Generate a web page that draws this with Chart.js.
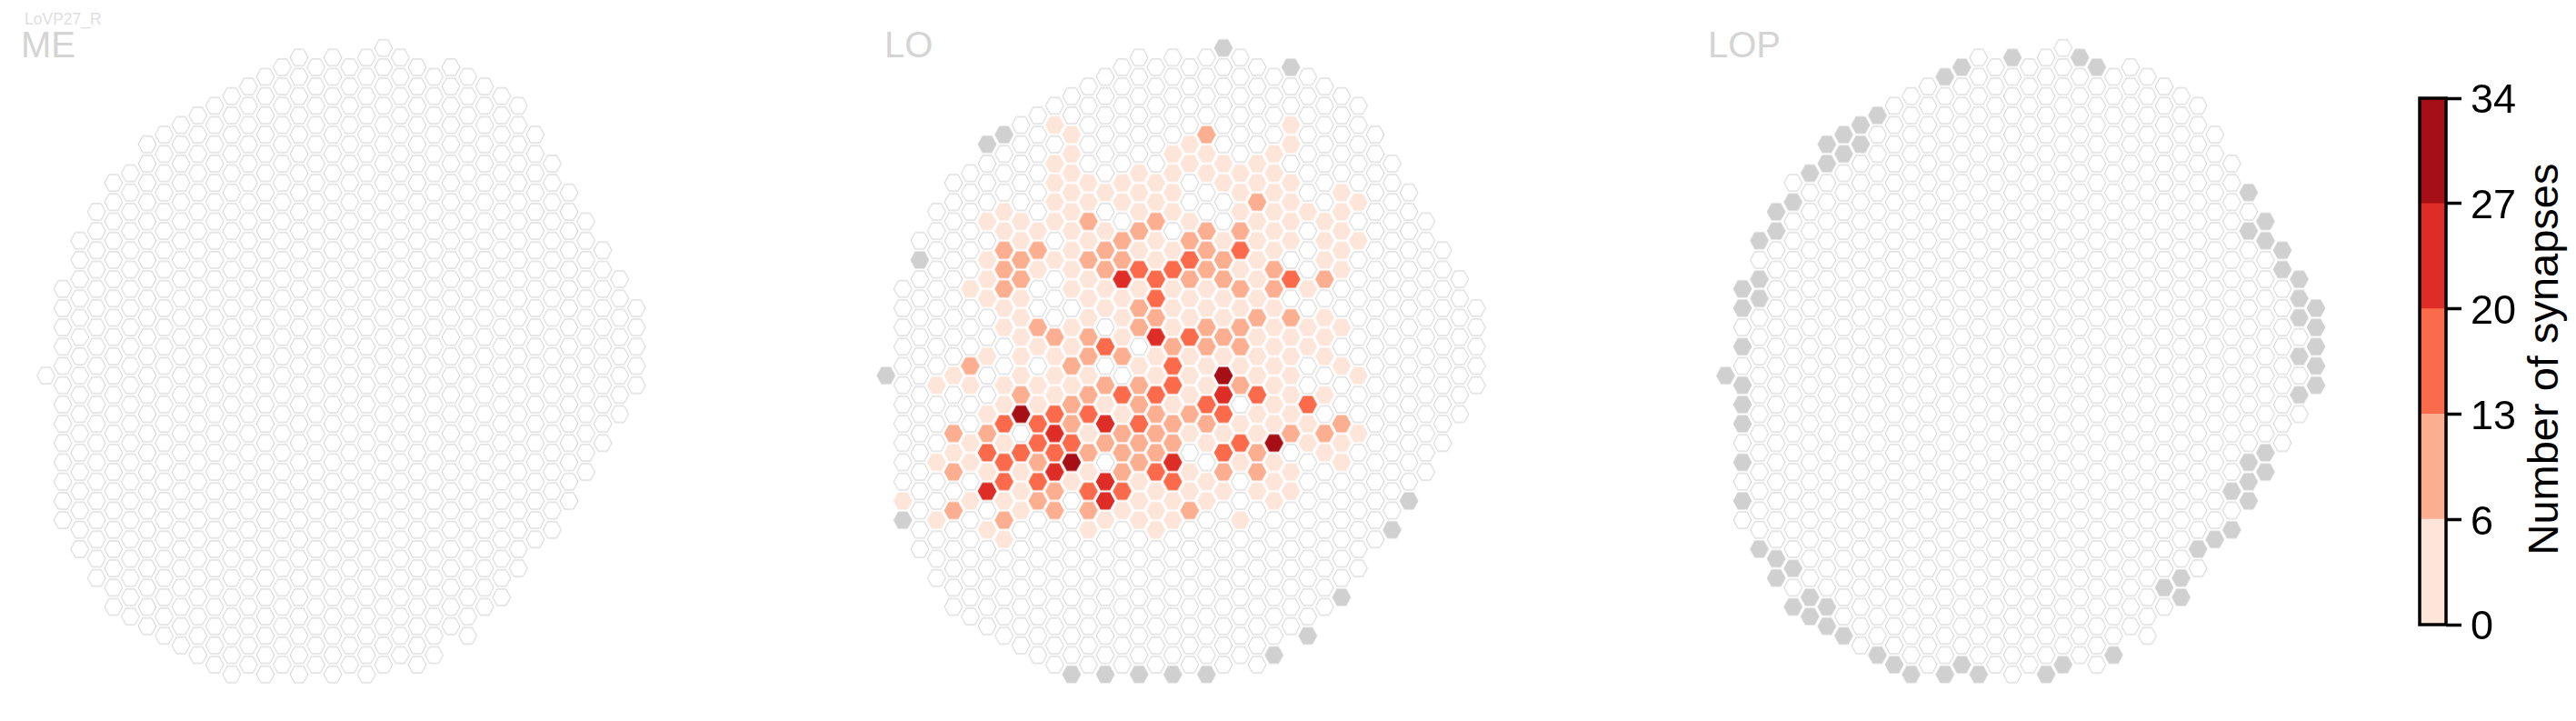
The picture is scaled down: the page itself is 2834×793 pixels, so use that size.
<!DOCTYPE html>
<html>
<head>
<meta charset="utf-8">
<style>
  html, body { margin:0; padding:0; background:#fff; width:2834px; height:793px; overflow:hidden; font-family:"Liberation Sans", Arial, sans-serif; }
  canvas { position:absolute; top:0; }
  .lbl { position:absolute; white-space:nowrap; line-height:1; }
  .region { font-size:40px; color:#d4d4d4; top:29px; }
</style>
<script src="https://cdn.jsdelivr.net/npm/chart.js@4"></script>
</head>
<body>
<div class="lbl" style="left:27px;top:13px;font-size:17.5px;color:#e0e0e0">LoVP27_R</div>
<div class="lbl region" style="left:23px">ME</div>
<div class="lbl region" style="left:973px">LO</div>
<div class="lbl region" style="left:1879px">LOP</div>
<div class="lbl" style="left:2797px;top:395px;font-size:47px;color:#000;transform:translate(-50%,-50%) rotate(-90deg)">Number of synapses</div>
<canvas id="meChart"></canvas>
<canvas id="loChart"></canvas>
<canvas id="lopChart"></canvas>
<canvas id="barChart"></canvas>
<script>
// ── DATA ─────────────────────────────────────────────────────────
// hex grid: first and last row of each of the 36 columns
const columnFirst = [34,25,20,17,14,13,10,9,8,7,6,5,4,3,2,1,2,1,2,1,0,1,2,3,2,3,4,5,6,9,12,15,18,21,24,27];
const columnLast  = [34,49,52,55,58,59,60,61,62,63,64,65,64,65,64,65,64,65,64,65,64,63,64,63,60,61,58,57,54,51,50,47,44,41,38,35];

const barTicks  = ['0','6','13','20','27','34'];
const barColors = ['#fee5d9','#fcae91','#fb6a4a','#de2d26','#a50f15'];

// LO columns per colour bin, [column,row]
const loBin1 = [[10,8],[24,8],[11,9],[18,10],[24,10],[11,11],[17,11],[19,11],[23,11],[10,12],[18,12],[20,12],[22,12],
  [11,13],[15,13],[17,13],[19,13],[21,13],[23,13],[10,14],[12,14],[14,14],[16,14],[20,14],[22,14],[24,14],
  [11,15],[13,15],[15,15],[17,15],[21,15],[23,15],[27,15],[10,16],[12,16],[14,16],[16,16],[24,16],[28,16],
  [7,17],[11,17],[15,17],[17,17],[21,17],[23,17],[25,17],[27,17],[6,18],[8,18],[10,18],[18,18],[22,18],[24,18],[26,18],
  [7,19],[9,19],[11,19],[13,19],[23,19],[27,19],[8,20],[12,20],[16,20],[20,20],[22,20],[24,20],[26,20],[28,20],
  [11,21],[15,21],[17,21],[23,21],[27,21],[6,22],[10,22],[16,22],[22,22],[26,22],[9,23],[11,23],[21,23],[27,23],
  [6,24],[12,24],[22,24],[5,25],[11,25],[13,25],[15,25],[17,25],[19,25],[25,25],[6,26],[8,26],[12,26],[14,26],[18,26],[20,26],[22,26],
  [7,27],[13,27],[17,27],[19,27],[21,27],[23,27],[8,28],[12,28],[14,28],[18,28],[20,28],[26,28],
  [7,29],[11,29],[17,29],[23,29],[25,29],[27,29],[8,30],[14,30],[22,30],[24,30],[26,30],[9,31],[11,31],[23,31],[25,31],
  [6,32],[8,32],[10,32],[16,32],[18,32],[20,32],[22,32],[24,32],[26,32],[15,33],[19,33],[21,33],[23,33],[27,33],
  [4,34],[8,34],[10,34],[12,34],[16,34],[18,34],[22,34],[24,34],[28,34],[3,35],[5,35],[7,35],[9,35],[11,35],[19,35],[23,35],
  [10,36],[18,36],[24,36],[26,36],[7,37],[9,37],[13,37],[17,37],[23,37],[6,38],[14,38],[22,38],[24,38],[21,39],[23,39],[25,39],
  [12,40],[18,40],[20,40],[22,40],[28,40],[5,41],[7,41],[19,41],[25,41],[27,41],[4,42],[26,42],[3,43],[5,43],[21,43],[23,43],[27,43],
  [6,44],[8,44],[12,44],[18,44],[24,44],[11,45],[15,45],[19,45],[23,45],[8,46],[16,46],[18,46],[20,46],[22,46],[24,46],
  [1,47],[5,47],[7,47],[15,47],[17,47],[19,47],[23,47],[8,48],[14,48],[16,48],[3,49],[13,49],[15,49],[17,49],[21,49],[6,50],[12,50],[16,50],[7,51]];
const loBin2 = [[19,9],[22,16],[12,18],[16,18],[15,19],[19,19],[21,19],[14,20],[18,20],[7,21],[9,21],[13,21],[19,21],[8,22],[12,22],[14,22],[20,22],
  [7,23],[13,23],[19,23],[23,23],[8,24],[18,24],[20,24],[26,24],[7,25],[21,25],[23,25],[15,27],[16,28],[22,28],[24,28],
  [9,29],[15,29],[19,29],[21,29],[10,30],[12,30],[20,30],[17,31],[19,31],[21,31],[12,32],[14,32],[5,33],[11,33],[13,35],[15,35],[21,35],
  [8,36],[12,36],[11,37],[15,37],[16,38],[18,38],[11,39],[17,39],[19,39],[27,39],[4,40],[6,40],[14,40],[16,40],[24,40],[26,40],
  [13,41],[15,41],[17,41],[12,42],[14,42],[16,42],[22,42],[9,43],[15,43],[4,44],[14,44],[20,44],[22,44],[10,46],[9,47],[4,48],[10,48],[12,48],[18,48],[7,49]];
const loBin3 = [[21,21],[18,22],[15,23],[17,23],[16,24],[24,24],[16,26],[18,30],[13,31],[17,33],[17,35],[14,36],[16,36],[22,36],[19,37],[25,37],
  [10,38],[12,38],[20,38],[7,39],[9,39],[15,39],[9,41],[11,41],[21,41],[6,42],[8,42],[10,42],[20,42],[7,43],[16,44],[7,45],[9,45],[17,45],[12,46],[14,46]];
const loBin4 = [[14,24],[16,30],[20,36],[13,39],[10,40],[17,43],[10,44],[13,45],[6,46],[13,47]];
const loBin5 = [[20,34],[8,38],[23,41],[11,43]];

// columns shown grey (no data in that neuropil)
const loGrey  = [[20,0],[24,2],[7,9],[6,10],[2,22],[0,34],[31,47],[1,49],[30,50],[27,57],[25,61],[23,63],[11,65],[13,65],[15,65],[17,65],[19,65]];
const lopGrey = [[0,34],[1,25],[1,27],[1,31],[1,35],[1,37],[1,39],[1,43],[1,47],[2,20],[2,24],[2,26],[2,52],[3,17],[3,19],[3,53],[3,55],
  [4,16],[4,54],[4,58],[5,13],[5,57],[5,59],[6,10],[6,12],[6,58],[6,60],[7,9],[7,11],[7,61],[8,8],[8,10],[9,7],[9,63],[10,64],[11,65],
  [13,3],[13,65],[14,2],[14,64],[15,65],[17,1],[19,65],[20,64],[21,1],[22,2],[23,63],[26,56],[27,55],[27,57],[28,52],[29,51],[30,46],[30,50],
  [31,15],[31,19],[31,43],[31,45],[31,47],[32,18],[32,20],[32,42],[32,44],[33,21],[33,23],[34,24],[34,26],[34,28],[34,32],[34,36],
  [35,27],[35,29],[35,31],[35,33],[35,35]];

// ── HEX SPRITES ──────────────────────────────────────────────────
const COL_STEP = 18.56, ROW_STEP = 10.6, TOP_Y = 52.7;

function hexSprite(fill, stroke) {
  const c = document.createElement('canvas');
  c.width = 26; c.height = 26;
  const g = c.getContext('2d');
  const w = stroke ? 9.9 : 10.4, h = stroke ? 9.05 : 9.4;   // half width, half height
  g.beginPath();
  g.moveTo(13 - w, 13);
  g.lineTo(13 - w / 2, 13 - h);
  g.lineTo(13 + w / 2, 13 - h);
  g.lineTo(13 + w, 13);
  g.lineTo(13 + w / 2, 13 + h);
  g.lineTo(13 - w / 2, 13 + h);
  g.closePath();
  g.fillStyle = fill;
  g.fill();
  if (stroke) { g.strokeStyle = stroke; g.lineWidth = 1; g.stroke(); }
  return c;
}

const toPts = list => list.map(p => ({ x:p[0], y:p[1] }));

function hexDataset(list, sprite) {
  return { data:toPts(list), pointStyle:sprite, pointRadius:10, pointHoverRadius:10, showLine:false };
}

function hexPanel(id, left, width, originX, layers) {
  const canvas = document.getElementById(id);
  canvas.style.left = left + 'px';
  canvas.style.width = width + 'px';
  canvas.style.height = '793px';
  canvas.width = width; canvas.height = 793;

  const used = new Set();
  layers.forEach(l => l.list.forEach(p => used.add(p[0] + ':' + p[1])));
  const empty = [];
  columnFirst.forEach((first, c) => {
    for (let r = first; r <= columnLast[c]; r += 2) {
      if (!used.has(c + ':' + r)) empty.push([c, r]);
    }
  });

  const datasets = [hexDataset(empty, hexSprite('#ffffff', '#cfcfcf'))];
  layers.forEach(l => datasets.push(hexDataset(l.list, hexSprite(l.color))));

  new Chart(canvas, {
    type:'scatter',
    data:{ datasets },
    options:{
      responsive:false, animation:false, events:[], clip:false,
      layout:{ autoPadding:false },
      plugins:{ legend:{ display:false }, tooltip:{ enabled:false } },
      scales:{
        x:{ display:false, min:(left - originX) / COL_STEP, max:(left + width - originX) / COL_STEP },
        y:{ display:false, reverse:true, min:-TOP_Y / ROW_STEP, max:(793 - TOP_Y) / ROW_STEP }
      }
    }
  });
}

hexPanel('meChart', 10, 740, 50.6, []);
hexPanel('loChart', 950, 720, 974.7, [
  { list:loGrey, color:'#d0d0d0' },
  { list:loBin1, color:barColors[0] },
  { list:loBin2, color:barColors[1] },
  { list:loBin3, color:barColors[2] },
  { list:loBin4, color:barColors[3] },
  { list:loBin5, color:barColors[4] }
]);
hexPanel('lopChart', 1870, 720, 1898.4, [{ list:lopGrey, color:'#d0d0d0' }]);

// ── COLOUR BAR ───────────────────────────────────────────────────
const bar = document.getElementById('barChart');
bar.style.left = '2600px';
bar.width = 234; bar.height = 793;

const barFrame = {
  id:'barFrame',
  afterDraw(chart) {
    const a = chart.chartArea, g = chart.ctx;
    g.save();
    g.strokeStyle = '#000';
    g.lineWidth = 3.5;
    g.strokeRect(a.left, a.top, a.right - a.left, a.bottom - a.top);
    g.restore();
  }
};

new Chart(bar, {
  type:'bar',
  data:{ labels:[''], datasets:barColors.map(c => ({ data:[1], backgroundColor:c, borderWidth:0, categoryPercentage:1, barPercentage:1 })) },
  options:{
    responsive:false, animation:false, events:[],
    layout:{ padding:{ left:62, top:108, bottom:106, right:0 } },
    plugins:{ legend:{ display:false }, tooltip:{ enabled:false } },
    scales:{
      x:{ display:false, stacked:true },
      y:{
        position:'right', stacked:true, min:0, max:5,
        afterFit(s) { s.width = 143; },
        border:{ display:false },
        grid:{ drawOnChartArea:false, drawTicks:true, tickLength:17, tickWidth:3.5, tickColor:'#000' },
        ticks:{ stepSize:1, padding:10, labelOffset:4, color:'#000', font:{ family:'"Liberation Sans"', size:45 }, callback:v => barTicks[v] }
      }
    }
  },
  plugins:[barFrame]
});
</script>
</body>
</html>
